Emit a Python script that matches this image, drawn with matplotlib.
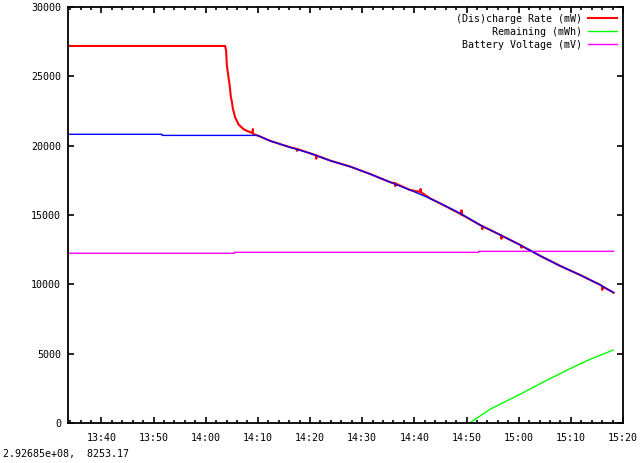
import matplotlib
matplotlib.use("Agg")
import matplotlib.pyplot as plt
import matplotlib.dates as mdates
import pandas as pd

plt.rcParams["font.family"] = "DejaVu Sans Mono"
plt.rcParams["font.size"] = 7.2

DAY = "2009-04-10 "

# (Dis)charge rate (mW)
rate_t = ["13:33:36", "14:03:43", "14:03:55", "14:04:03", "14:04:21", "14:04:33",
          "14:04:49", "14:05:01", "14:05:12", "14:05:27", "14:05:38", "14:05:58",
          "14:06:16", "14:06:44", "14:07:14", "14:07:53", "14:08:31", "14:09:00",
          "14:09:02", "14:09:04", "14:09:09", "14:10:07", "14:12:24", "14:16:12",
          "14:17:30", "14:17:32", "14:17:34", "14:20:00", "14:21:10", "14:21:12",
          "14:21:14", "14:23:54", "14:27:42", "14:31:30", "14:35:24", "14:36:20",
          "14:36:22", "14:36:24", "14:39:12", "14:41:10", "14:41:12", "14:41:14",
          "14:43:06", "14:45:00", "14:48:48", "14:49:00", "14:49:02", "14:49:04",
          "14:52:36", "14:53:00", "14:53:02", "14:53:04", "14:56:30", "14:56:40",
          "14:56:42", "14:56:44", "15:00:18", "15:00:30", "15:00:32", "15:00:34",
          "15:04:12", "15:08:00", "15:11:48", "15:15:42", "15:16:00", "15:16:02",
          "15:16:04", "15:18:12"]
rate_v = [27190, 27190, 26820, 25810, 24970, 24490,
          23530, 23170, 22690, 22330, 22040, 21800,
          21540, 21370, 21200, 21070, 20980, 20900,
          21200, 20880, 20840, 20710, 20340, 19880,
          19770, 19620, 19760, 19450, 19300, 19060,
          19290, 18920, 18490, 17960, 17360, 17280,
          17080, 17270, 16800, 16660, 16880, 16650,
          16180, 15830, 15080, 15040, 15340, 15030,
          14280, 14200, 13980, 14190, 13560, 13520,
          13290, 13510, 12840, 12780, 12640, 12770,
          12040, 11320, 10670, 9950, 9850, 9600,
          9840, 9400]

# untitled blue series
blue_t = ["13:33:36", "13:51:36", "13:51:40", "14:09:54", "14:12:24", "14:16:12",
          "14:20:00", "14:23:54", "14:27:42", "14:31:30", "14:35:24", "14:39:12",
          "14:43:06", "14:45:00", "14:48:48", "14:52:36", "14:56:30", "15:00:18",
          "15:04:12", "15:08:00", "15:11:48", "15:15:42", "15:18:12"]
blue_v = [20820, 20820, 20740, 20740, 20340, 19880,
          19450, 18920, 18490, 17960, 17360, 16800,
          16180, 15830, 15120, 14280, 13560, 12840,
          12040, 11320, 10670, 9950, 9400]

# Remaining (mWh)
remain_t = ["14:50:36", "14:54:36", "14:57:48", "15:01:00", "15:04:12", "15:07:24",
            "15:10:36", "15:13:42", "15:18:06"]
remain_v = [0, 1010, 1610, 2210, 2860, 3460, 4060, 4590, 5260]

# Battery Voltage (mV)
volt_t = ["13:33:36", "14:05:30", "14:05:31", "14:52:18", "14:52:19", "15:18:12"]
volt_v = [12240, 12240, 12310, 12310, 12380, 12380]


def to_dt(ts):
    return pd.to_datetime([DAY + t for t in ts])


fig = plt.figure(figsize=(6.4, 4.63), dpi=100)
ax = fig.add_axes([68 / 640, 1 - 423 / 463, 555 / 640, 416 / 463])

ax.plot(to_dt(rate_t), rate_v, color="#ff0000", lw=1.5,
        label="(Dis)charge Rate (mW)")
ax.plot(to_dt(remain_t), remain_v, color="#00ff00", lw=1.0,
        label="      Remaining (mWh)")
ax.plot(to_dt(volt_t), volt_v, color="#ff00ff", lw=1.0,
        label=" Battery Voltage (mV)")
ax.plot(to_dt(blue_t), blue_v, color="#0000ff", lw=1.0)

ax.set_xlim(pd.Timestamp(DAY + "13:33:36"), pd.Timestamp(DAY + "15:20:00"))
ax.set_ylim(0, 30000)
ax.set_yticks(range(0, 30001, 5000))

ax.xaxis.set_major_locator(mdates.MinuteLocator(byminute=range(0, 60, 10)))
ax.xaxis.set_minor_locator(mdates.MinuteLocator(byminute=range(0, 60, 2)))
ax.xaxis.set_major_formatter(mdates.DateFormatter("%H:%M"))

ax.tick_params(which="both", direction="in", top=True, right=True, width=1.2)
ax.tick_params(which="major", length=4)
ax.tick_params(which="minor", length=2)
ax.tick_params(axis="x", pad=7)
ax.tick_params(axis="y", pad=5)
for s in ax.spines.values():
    s.set_linewidth(1.3)

ax.legend(loc="upper right", frameon=False, markerfirst=False,
          handlelength=2.9, handletextpad=0.6, labelspacing=0.3,
          borderaxespad=0.25, fontsize=7.2)

fig.text(3 / 640, 1 - 453.5 / 463, "2.92685e+08,  8253.17",
         ha="left", va="center", fontsize=7.2)

plt.savefig("out.png", dpi=100)
